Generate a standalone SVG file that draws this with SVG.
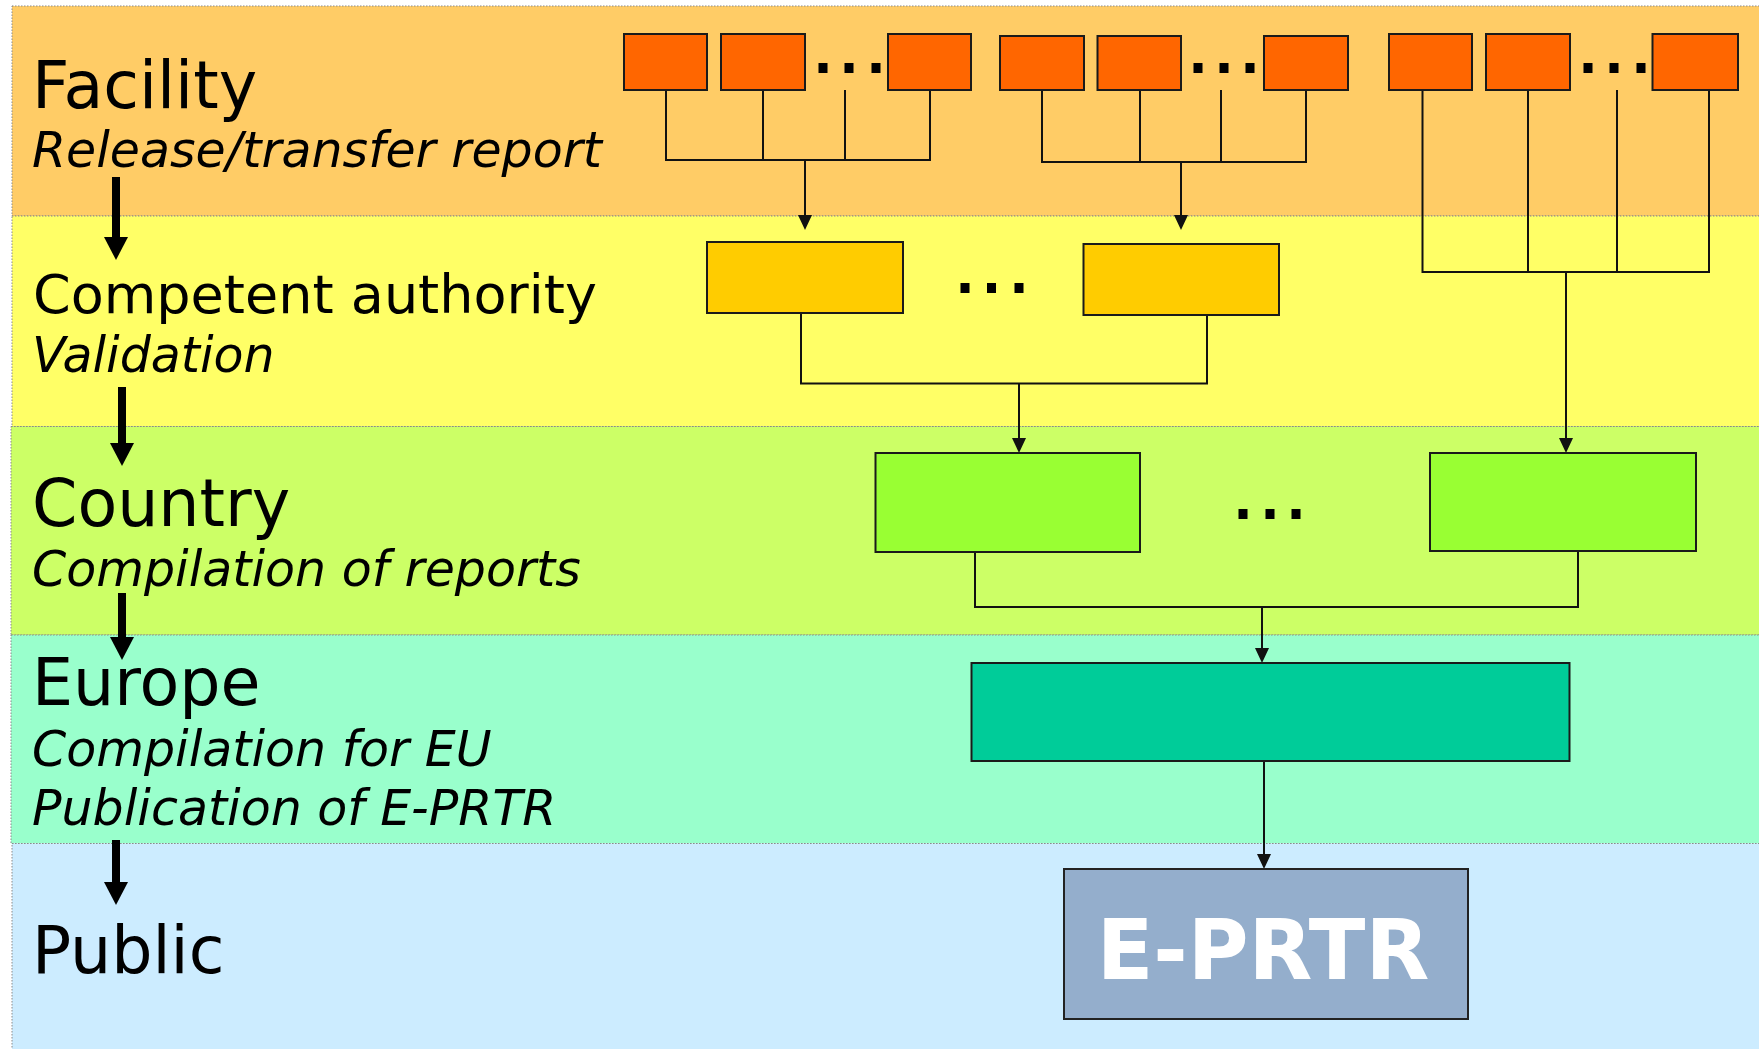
<svg xmlns="http://www.w3.org/2000/svg" width="1759" height="1049" viewBox="0 0 1759 1049">
<style>
.band{stroke:#8a8a8a;stroke-width:1;stroke-dasharray:1.5 1.5}
.box{stroke:#1a1a1a;stroke-width:2}
.fac{fill:#FF6600}
.ca{fill:#FFCC00}
.cty{fill:#99FF33}
.eu{fill:#00CC99}
.dot{fill:#000}
.conn line,.conn polyline{stroke:#111;stroke-width:2;fill:none}
.big{stroke:#000;stroke-width:8;fill:none}
.lbl{font-family:"DejaVu Sans","Liberation Sans",sans-serif;fill:#000}
.t{font-size:65px}
.s{font-size:49px;font-style:italic}
</style>
<defs>
<marker id="ah" viewBox="0 0 15 14" refX="1" refY="7" markerWidth="15" markerHeight="14" markerUnits="userSpaceOnUse" orient="auto">
<path d="M0,0 L15,7 L0,14 z" fill="#111"/>
</marker>
<marker id="bh" viewBox="0 0 23 24" refX="1" refY="12" markerWidth="23" markerHeight="24" markerUnits="userSpaceOnUse" orient="auto">
<path d="M0,0 L23,12 L0,24 z" fill="#000"/>
</marker>
</defs>
<rect width="1759" height="1049" fill="#ffffff"/>
<g id="bands">
<rect class="band" x="12" y="6" width="1760" height="210" fill="#FFCC66"/>
<rect class="band" x="12" y="216" width="1760" height="210.5" fill="#FFFF66"/>
<rect class="band" x="11" y="426.5" width="1760" height="208.5" fill="#CCFF66"/>
<rect class="band" x="11" y="635" width="1760" height="208.5" fill="#99FFCC"/>
<rect class="band" x="12" y="843.5" width="1760" height="220" fill="#CCECFF"/>
</g>
<g id="labels">
<text class="lbl t" x="32" y="108">Facility</text>
<text class="lbl s" x="32" y="167">Release/transfer report</text>
<text class="lbl" x="33" y="313" font-size="54">Competent authority</text>
<text class="lbl s" x="32" y="372">Validation</text>
<text class="lbl t" x="32" y="526">Country</text>
<text class="lbl s" x="32" y="586">Compilation of reports</text>
<text class="lbl t" x="32" y="705">Europe</text>
<text class="lbl s" x="32" y="766">Compilation for EU</text>
<text class="lbl s" x="32" y="825">Publication of E-PRTR</text>
<text class="lbl t" x="32" y="973">Public</text>
</g>
<g id="level-arrows">
<line class="big" x1="116" y1="177" x2="116" y2="238" marker-end="url(#bh)"/>
<line class="big" x1="122" y1="387" x2="122" y2="444" marker-end="url(#bh)"/>
<line class="big" x1="122" y1="593" x2="122" y2="638" marker-end="url(#bh)"/>
<line class="big" x1="116" y1="840" x2="116" y2="883" marker-end="url(#bh)"/>
</g>
<g id="connectors" class="conn">
<polyline points="666,90 666,160 930,160 930,90"/>
<line x1="763" y1="90" x2="763" y2="160"/>
<line x1="845" y1="90" x2="845" y2="160"/>
<line x1="805" y1="160" x2="805" y2="216" marker-end="url(#ah)"/>
<polyline points="1042,90 1042,162 1306,162 1306,90"/>
<line x1="1140" y1="90" x2="1140" y2="162"/>
<line x1="1221" y1="90" x2="1221" y2="162"/>
<line x1="1181" y1="162" x2="1181" y2="216" marker-end="url(#ah)"/>
<polyline points="1422.5,90 1422.5,272 1709,272 1709,90"/>
<line x1="1528" y1="90" x2="1528" y2="272"/>
<line x1="1617" y1="90" x2="1617" y2="272"/>
<line x1="1566" y1="272" x2="1566" y2="439" marker-end="url(#ah)"/>
<polyline points="801,313 801,383.5 1207,383.5 1207,315"/>
<line x1="1019" y1="383.5" x2="1019" y2="439" marker-end="url(#ah)"/>
<polyline points="975,552 975,607 1578,607 1578,551"/>
<line x1="1262" y1="607" x2="1262" y2="649" marker-end="url(#ah)"/>
<line x1="1264" y1="761" x2="1264" y2="855" marker-end="url(#ah)"/>
</g>
<g id="facility-1"><rect class="box fac" x="624" y="34" width="83" height="56"/></g>
<g id="facility-2"><rect class="box fac" x="721" y="34" width="84" height="56"/></g>
<g id="facility-3"><rect class="box fac" x="888" y="34" width="83" height="56"/></g>
<g id="facility-dots-1"><rect class="dot" x="818.5" y="63" width="9" height="10"/><rect class="dot" x="844.5" y="63" width="9" height="10"/><rect class="dot" x="871.5" y="63" width="9" height="10"/></g>
<g id="facility-4"><rect class="box fac" x="1000" y="36" width="84" height="54"/></g>
<g id="facility-5"><rect class="box fac" x="1097.5" y="36" width="83.5" height="54"/></g>
<g id="facility-6"><rect class="box fac" x="1264" y="36" width="84" height="54"/></g>
<g id="facility-dots-2"><rect class="dot" x="1193.5" y="63" width="9" height="10"/><rect class="dot" x="1219.5" y="63" width="9" height="10"/><rect class="dot" x="1245.5" y="63" width="9" height="10"/></g>
<g id="facility-7"><rect class="box fac" x="1389" y="34" width="83" height="56"/></g>
<g id="facility-8"><rect class="box fac" x="1486" y="34" width="84" height="56"/></g>
<g id="facility-9"><rect class="box fac" x="1652.5" y="34" width="85.5" height="56"/></g>
<g id="facility-dots-3"><rect class="dot" x="1583.5" y="63" width="9" height="10"/><rect class="dot" x="1609.5" y="63" width="9" height="10"/><rect class="dot" x="1636.5" y="63" width="9" height="10"/></g>
<g id="authority-1"><rect class="box ca" x="707" y="242" width="196" height="71"/></g>
<g id="authority-dots"><rect class="dot" x="960.5" y="283" width="9" height="10"/><rect class="dot" x="987" y="283" width="9" height="10"/><rect class="dot" x="1014.5" y="283" width="9" height="10"/></g>
<g id="authority-2"><rect class="box ca" x="1083.5" y="244" width="195.5" height="71"/></g>
<g id="country-1"><rect class="box cty" x="875.5" y="453" width="264.5" height="99"/></g>
<g id="country-dots"><rect class="dot" x="1238.5" y="509" width="9" height="10"/><rect class="dot" x="1265.5" y="509" width="9" height="10"/><rect class="dot" x="1291.5" y="509" width="9" height="10"/></g>
<g id="country-2"><rect class="box cty" x="1430" y="453" width="266" height="98"/></g>
<g id="europe"><rect class="box eu" x="971.5" y="663" width="598" height="98"/></g>
<g id="eprtr">
<rect x="1064" y="869" width="404" height="150" fill="#94AECC" stroke="#222" stroke-width="2"/>
<text x="1263" y="979" text-anchor="middle" font-family="'DejaVu Sans','Liberation Sans',sans-serif" font-weight="bold" font-size="83" fill="#ffffff">E-PRTR</text>
</g>
</svg>
